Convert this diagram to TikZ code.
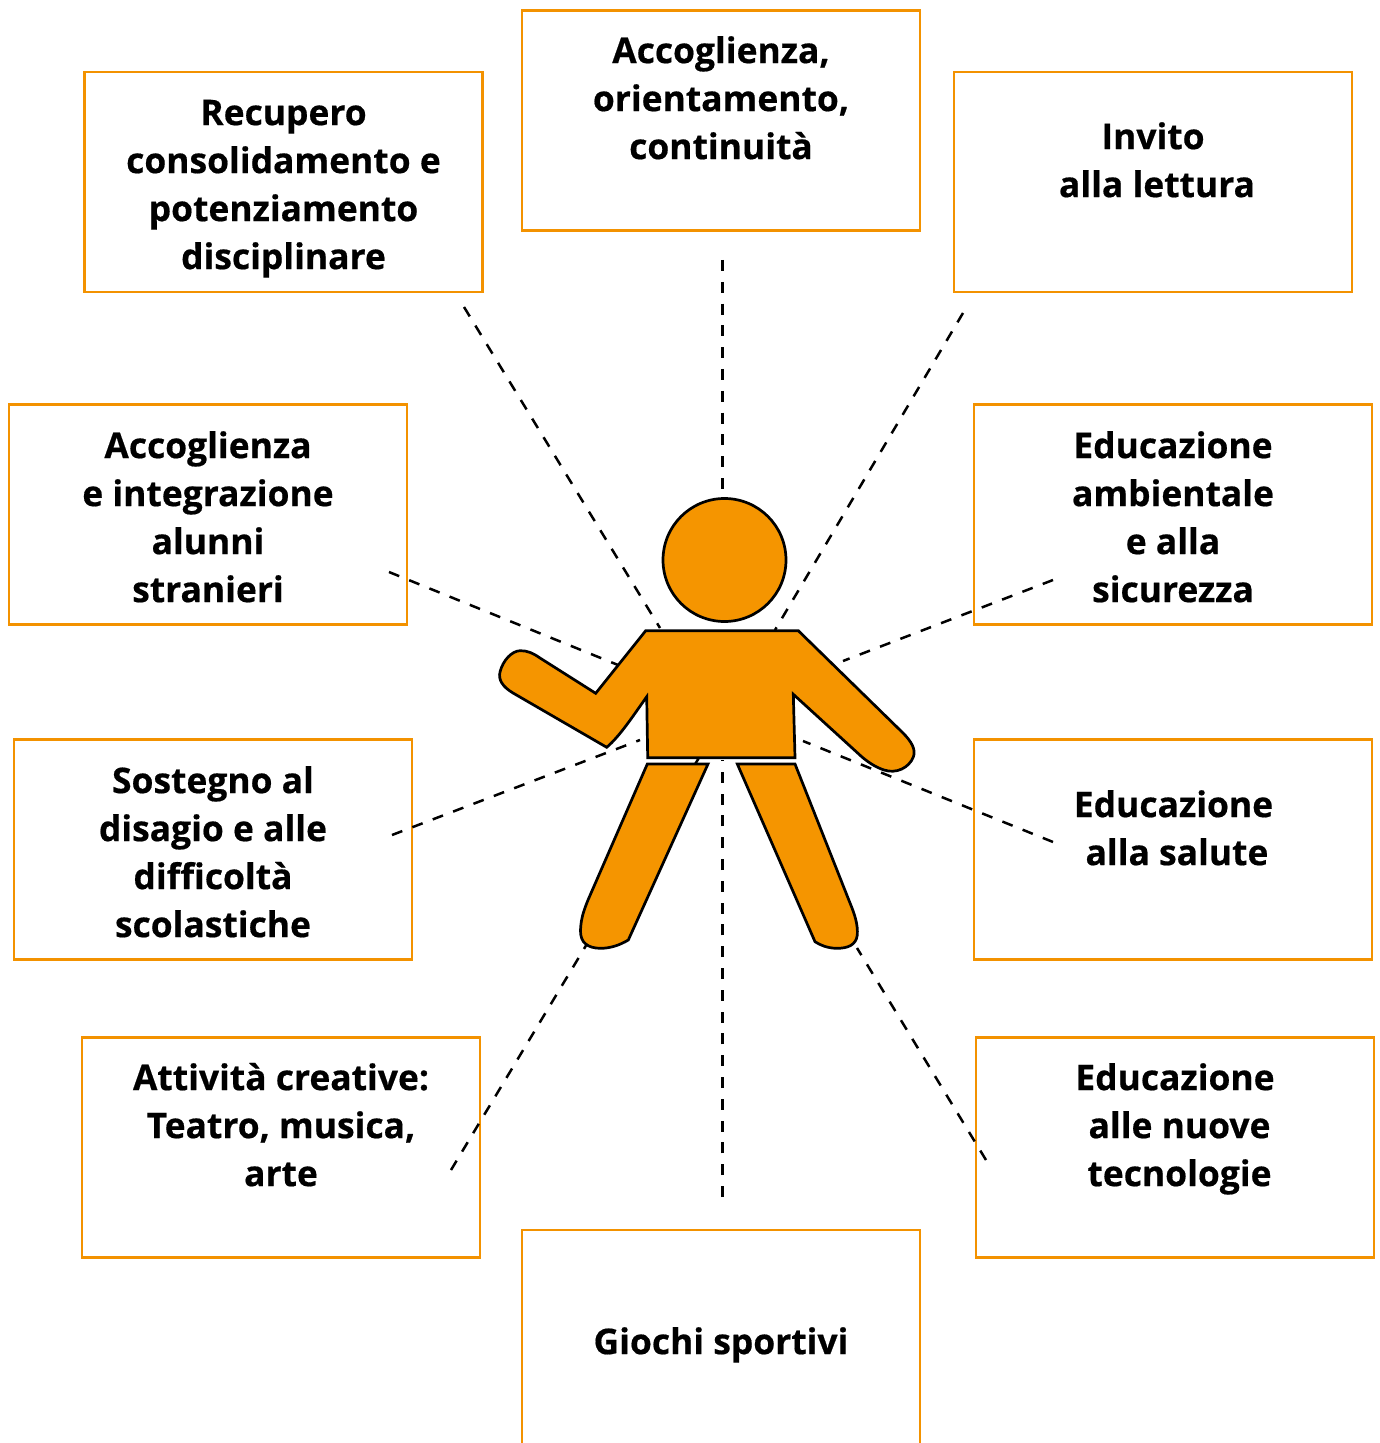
\documentclass[tikz,border=0pt]{standalone}
\usepackage{fontspec}
\setmainfont{Open Sans}[BoldFeatures={FakeBold=0.5}]
\definecolor{boxorange}{HTML}{F39200}
\definecolor{bodyorange}{HTML}{F59500}
\newcommand{\lh}{\rule{0pt}{14pt}}
\tikzset{
  infobox/.style={draw=boxorange,line width=1.4pt,fill=white,minimum width=199pt,minimum height=110pt,inner sep=0pt,outer sep=0pt},
  boxtext/.style={anchor=north,align=center,inner sep=0pt,font=\fontsize{17.7}{24}\selectfont\bfseries},
  ray/.style={line width=1.25pt,dash pattern=on 5.5pt off 5.4pt},
  rayb/.style={line width=1.25pt,dash pattern=on 5.45pt off 5.3pt},
  figpart/.style={draw=black,fill=bodyorange,line width=1.35pt,line join=miter}
}
\begin{document}
\begin{tikzpicture}[x=0.5pt,y=-0.5pt]
\clip (0,0) rectangle (1379,1443);
% boxes
\node[infobox] (b1) at (283.5,182) {};
\node[infobox] (b2) at (721,120.5) {};
\node[infobox] (b3) at (1153,182) {};
\node[infobox] (b4) at (208,514.5) {};
\node[infobox] (b5) at (1173,514.5) {};
\node[infobox] (b6) at (213,849.5) {};
\node[infobox] (b7) at (1173,849.5) {};
\node[infobox] (b8) at (281,1147.5) {};
\node[infobox] (b9) at (1175,1147.5) {};
\node[infobox] (b10) at (721,1340) {};
% texts
\node[boxtext] (t1) at (283.5,96.7) {\lh Recupero\\consolidamento e\\potenziamento\\disciplinare};
\node[boxtext] (t2) at (721,34.7) {\lh Accoglienza,\\orientamento,\\continuità};
\node[boxtext] (t3) at (1157,120.7) {\lh Invito\hspace*{4pt}\\alla lettura};
\node[boxtext] (t4) at (208,429.7) {\lh Accoglienza\\e integrazione\\alunni\\stranieri};
\node[boxtext] (t5) at (1173,429.7) {\lh Educazione\\ambientale\\e alla\\sicurezza};
\node[boxtext] (t6) at (213,764.7) {\lh Sostegno al\\disagio e alle\\difficoltà\\scolastiche};
\node[boxtext] (t7) at (1177,788.7) {\lh Educazione\hspace*{3.5pt}\\alla salute};
\node[boxtext] (t8) at (281,1061.7) {\lh Attività creative:\\Teatro, musica,\\arte};
\node[boxtext] (t9) at (1179.5,1061.7) {\lh Educazione\hspace*{4.5pt}\\alle nuove\hspace*{4.5pt}\\tecnologie};
\node[boxtext] (t10) at (721,1325.7) {\lh Giochi sportivi};
% ray ends
\coordinate (r1a) at (464,307);   \coordinate (r1b) at (660,628);
\coordinate (r2a) at (722.5,260); \coordinate (r2b) at (722.5,490);
\coordinate (r3a) at (963,313);   \coordinate (r3b) at (775,630);
\coordinate (r4a) at (389,572);   \coordinate (r4b) at (618,665);
\coordinate (r5a) at (1053,580);  \coordinate (r5b) at (843,661);
\coordinate (r6a) at (392,835);   \coordinate (r6b) at (640,740);
\coordinate (r7a) at (1053,842);  \coordinate (r7b) at (803,741);
\coordinate (r8a) at (451,1170);  \coordinate (r8b) at (700,756);
\coordinate (r9a) at (986,1160);  \coordinate (r9b) at (857,948);
\coordinate (r10a) at (722.5,1197); \coordinate (r10b) at (722.5,760);
\foreach \n in {1,2,4,5,6,7,9,10} \draw[ray] (r\n a) -- (r\n b);
\foreach \n in {3,8} \draw[rayb] (r\n a) -- (r\n b);
% figure
\node[figpart,circle,minimum size=61.5pt,inner sep=0pt,outer sep=0pt] (head) at (724.5,560) {};
\draw[figpart] (645.7,630.7) -- (798.3,630.7) -- (903,733)
  .. controls (912,742) and (916,750) .. (913.3,757)
  .. controls (909,768) and (896,774) .. (884,770)
  .. controls (875,767) and (868,762) .. (862,757)
  -- (793.3,694.3) -- (795,757.7) -- (647.7,757.7) -- (646.7,696.7)
  .. controls (633,716) and (620,736) .. (606.7,747.3)
  -- (513,693)
  .. controls (503,687) and (498,680) .. (500,672)
  .. controls (503,660) and (512,651) .. (520,650.7)
  .. controls (527,650.5) and (533,653) .. (540,658)
  -- (595.7,693.3) -- cycle;
\draw[figpart] (647.3,764) -- (708,764) -- (628.3,940)
  .. controls (620,945) and (610,948.5) .. (600,948.3)
  .. controls (588,948) and (580,943) .. (580.5,930)
  .. controls (581,918) and (584,910) .. (588,900) -- cycle;
\draw[figpart] (737.3,764) -- (795,764) -- (850,903)
  .. controls (855,915) and (858,925) .. (857.3,935)
  .. controls (856,945) and (848,948.5) .. (836,948.3)
  .. controls (827,948) and (820,945) .. (815,941.7) -- cycle;
\end{tikzpicture}
\end{document}
